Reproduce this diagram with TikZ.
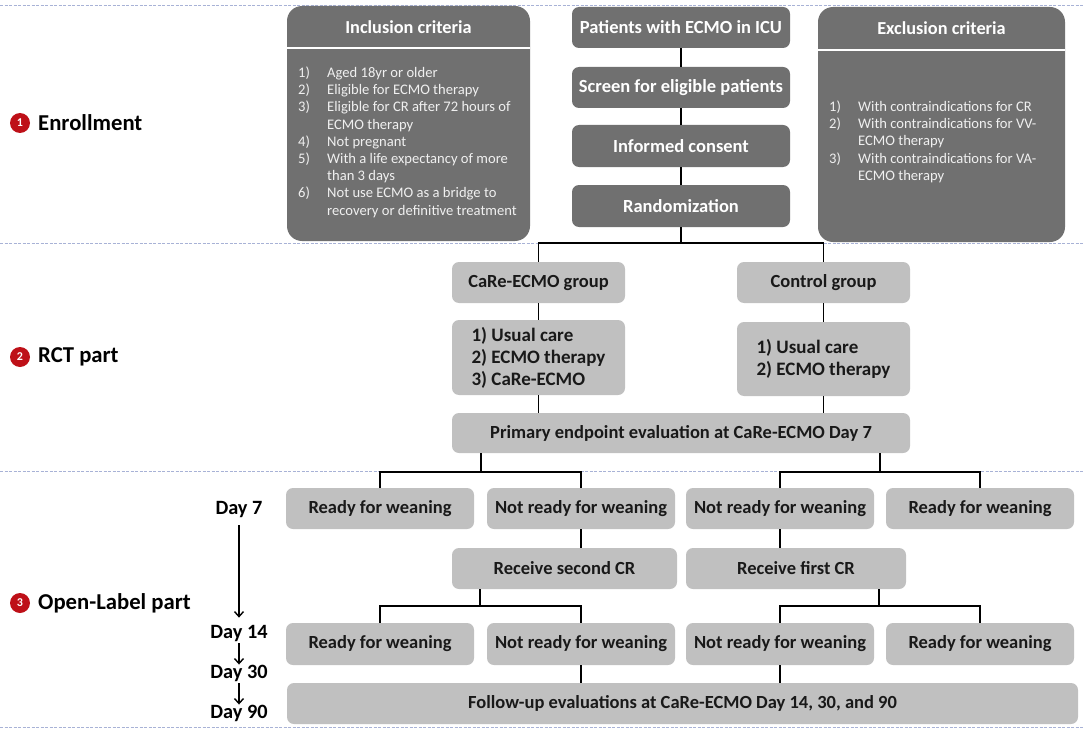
\documentclass[tikz,border=0pt]{standalone}
\usepackage{fontspec}
\setmainfont{Carlito}
\usetikzlibrary{arrows.meta}
\definecolor{dgray}{RGB}{112,112,112}
\definecolor{lgray}{RGB}{192,192,192}
\definecolor{dashc}{RGB}{168,178,214}
\definecolor{mred}{RGB}{190,16,24}
\definecolor{dtext}{RGB}{25,25,25}
\begin{document}
\begin{tikzpicture}[x=1pt,y=-1pt,
  boxfont/.style={font=\bfseries\fontsize{18.5}{22}\selectfont},
  dbox/.style={boxfont,rounded corners=7pt,fill=dgray,text=white,inner sep=0pt,align=center,minimum height=41pt,minimum width=218pt},
  lbox/.style={boxfont,rounded corners=7pt,fill=lgray,text=dtext,inner sep=0pt,align=center,minimum height=41pt},
  bigbox/.style={rounded corners=15pt,fill=dgray,inner sep=0pt},
  conn/.style={line width=1.8pt,black},
  sep/.style={dashc,line width=0.9pt,dash pattern=on 3pt off 1.5pt},
  itemlist/.style={anchor=north west,inner sep=0pt,text=white!94!black,font=\fontsize{14.6}{17.2}\selectfont},
  phase/.style={anchor=west,inner sep=0pt,font=\bfseries\fontsize{22.7}{26}\selectfont,text=black},
  num/.style={circle,fill=mred,text=white,inner sep=0pt,minimum size=20pt,font=\bfseries\fontsize{12}{12}\selectfont},
  daylab/.style={inner sep=0pt,font=\bfseries\fontsize{20.3}{24}\selectfont,text=black},
  dayarrow/.style={line width=1.6pt,-{Straight Barb[length=5pt,width=9pt,line width=1.4pt]}},
  grouplist/.style={font=\bfseries\fontsize{19}{22}\selectfont,align=left}
]
\useasboundingbox (0,0) rectangle (1084,733);
\fill[white] (0,0) rectangle (1084,733);
% separators
\draw[sep] (0,5) -- (1084,5);
\draw[sep] (0,243) -- (1084,243);
\draw[sep] (0,471) -- (1084,471);
\draw[sep] (0,727) -- (1084,727);

% criteria boxes
\node[bigbox,minimum width=243pt,minimum height=235pt] (incl) at (408.5,123.5) {};
\node[text=white,inner sep=0pt,font=\bfseries\fontsize{18.3}{20}\selectfont] (inclt) at (408.5,27) {Inclusion criteria};
\draw[white,line width=2pt] (incl.west |- 0,48) -- (incl.east |- 0,48);
\node[itemlist] (incll) at (298,65.3) {\begin{tabular}{@{}p{29pt}@{}l@{}}
1) & Aged 18yr or older\\
2) & Eligible for ECMO therapy\\
3) & Eligible for CR after 72 hours of\\
   & ECMO therapy\\
4) & Not pregnant\\
5) & With a life expectancy of more\\
   & than 3 days\\
6) & Not use ECMO as a bridge to\\
   & recovery or definitive treatment
\end{tabular}};

\node[bigbox,minimum width=247pt,minimum height=235pt] (excl) at (941.5,124.5) {};
\node[text=white,inner sep=0pt,font=\bfseries\fontsize{18.3}{20}\selectfont] (exclt) at (941.5,28) {Exclusion criteria};
\draw[white,line width=2pt] (excl.west |- 0,50) -- (excl.east |- 0,50);
\node[itemlist] (excll) at (829,99.3) {\begin{tabular}{@{}p{29pt}@{}l@{}}
1) & With contraindications for CR\\
2) & With contraindications for VV-\\
   & ECMO therapy\\
3) & With contraindications for VA-\\
   & ECMO therapy
\end{tabular}};

% enrollment column
\node[dbox] (pat) at (681,27.5) {Patients with ECMO in ICU};
\node[dbox] (scr) at (681,87.5) {Screen for eligible patients};
\node[dbox,minimum height=42pt] (inf) at (681,146) {Informed consent};
\node[dbox,minimum height=42pt] (rnd) at (681,206) {Randomization};
\draw[conn] (pat) -- (scr);
\draw[conn] (scr) -- (inf);
\draw[conn] (inf) -- (rnd);

% RCT part
\node[lbox,minimum width=173pt] (careg) at (538.5,282.5) {CaRe-ECMO group};
\node[lbox,minimum width=173pt] (ctrlg) at (823.5,282.5) {Control group};
\node[lbox,grouplist,minimum width=173pt,minimum height=75pt] (carel) at (538.5,357.5) {1) Usual care\\2) ECMO therapy\\3) CaRe-ECMO};
\node[lbox,grouplist,minimum width=173pt,minimum height=74pt] (ctrll) at (823.5,359) {1) Usual care\\2) ECMO therapy};
\node[lbox,minimum width=458pt,minimum height=40pt] (prim) at (681,433) {Primary endpoint evaluation at CaRe-ECMO Day 7};
\coordinate (b1) at (681,243);
\draw[conn] (rnd) -- (b1);
\draw[conn] (careg.north) |- (b1) -| (ctrlg.north);
\draw[conn] (careg) -- (carel);
\draw[conn] (ctrlg) -- (ctrll);
\draw[conn] (carel.south) -- (carel.south |- prim.north);
\draw[conn] (ctrll.south) -- (ctrll.south |- prim.north);

% Open-label part
\node[lbox,minimum width=188pt] (r1) at (380,508.5) {Ready for weaning};
\node[lbox,minimum width=188pt] (n1) at (581,508.5) {Not ready for weaning};
\node[lbox,minimum width=188pt] (n2) at (780,508.5) {Not ready for weaning};
\node[lbox,minimum width=188pt] (r2) at (980,508.5) {Ready for weaning};
\coordinate (p1) at (481,472);
\coordinate (p2) at (880,472);
\draw[conn] (prim.south -| p1) -- (p1);
\draw[conn] (prim.south -| p2) -- (p2);
\draw[conn] (r1.north) |- (p1) -| (n1.north);
\draw[conn] (n2.north) |- (p2) -| (r2.north);

\node[lbox,minimum width=225pt] (rs) at (564.5,568.5) {Receive second CR};
\node[lbox,minimum width=220pt] (rf) at (796,568.5) {Receive first CR};
\draw[conn] (n1.south) -- (n1.south |- rs.north);
\draw[conn] (n2.south) -- (n2.south |- rf.north);

\node[lbox,minimum width=188pt,minimum height=42pt] (r3) at (380,644) {Ready for weaning};
\node[lbox,minimum width=188pt,minimum height=42pt] (n3) at (581,644) {Not ready for weaning};
\node[lbox,minimum width=188pt,minimum height=42pt] (n4) at (780,644) {Not ready for weaning};
\node[lbox,minimum width=188pt,minimum height=42pt] (r4) at (980,644) {Ready for weaning};
\coordinate (q1) at (480,606);
\coordinate (q2) at (879,606);
\draw[conn] (rs.south -| q1) -- (q1);
\draw[conn] (rf.south -| q2) -- (q2);
\draw[conn] (r3.north) |- (q1) -| (n3.north);
\draw[conn] (n4.north) |- (q2) -| (r4.north);

\node[lbox,minimum width=791pt] (fu) at (682.5,703.5) {Follow-up evaluations at CaRe-ECMO Day 14, 30, and 90};
\draw[conn] (n3.south) -- (n3.south |- fu.north);
\draw[conn] (n4.south) -- (n4.south |- fu.north);

% phase labels
\node[num] (c1) at (20,123) {1};
\node[phase] (ph1) at (38,123) {Enrollment};
\node[num] (c2) at (20,357) {2};
\node[phase] (ph2) at (38,357) {RCT part};
\node[num] (c3) at (20,603) {3};
\node[phase] (ph3) at (38,603) {Open-Label part};

% day labels
\node[daylab] (d7) at (239,510) {Day 7};
\node[daylab] (d14) at (239,633) {Day 14};
\node[daylab] (d30) at (239,673) {Day 30};
\node[daylab] (d90) at (239,713) {Day 90};
\draw[dayarrow,shorten <=7pt,shorten >=7pt] (d7) -- (d14);
\draw[dayarrow,shorten <=2pt,shorten >=0pt] (d14) -- (d30);
\draw[dayarrow,shorten <=2pt,shorten >=0pt] (d30) -- (d90);
\end{tikzpicture}
\end{document}
